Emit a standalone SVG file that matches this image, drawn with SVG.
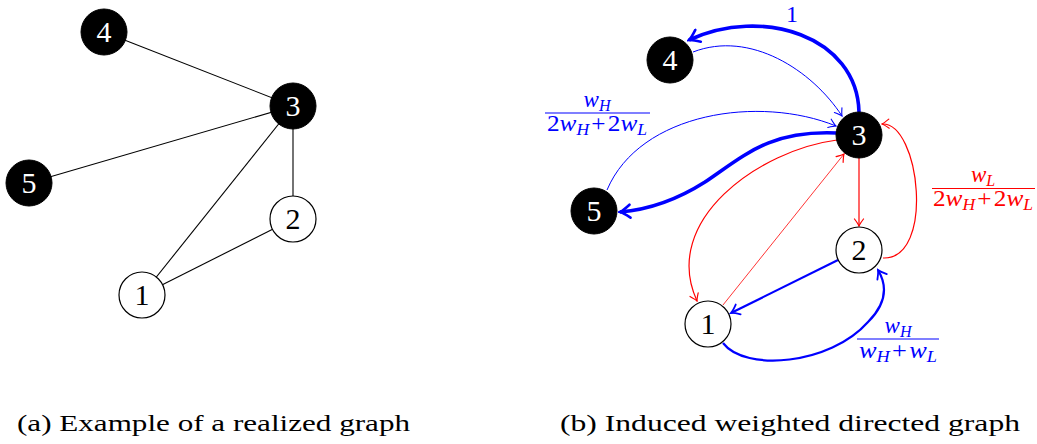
<svg xmlns="http://www.w3.org/2000/svg" width="1037" height="444" viewBox="0 0 1037 444">
<style>
.nb{fill:#000;stroke:#000;stroke-width:1}
.nw{fill:#fff;stroke:#000;stroke-width:1.2}
.lb{font-family:"Liberation Serif",serif;font-size:30px;text-anchor:middle}
.tw{fill:#fff}
.tk{fill:#000}
.und{stroke:#000;stroke-width:1.1;fill:none}
.fr{font-family:"Liberation Serif",serif;font-size:23px;text-anchor:middle}
.it{font-style:italic}
.sb{font-style:italic;font-size:16px}
.cap{font-family:"Liberation Serif",serif;font-size:24px;fill:#000}
.bT{stroke:#0000ff;stroke-width:3.6;fill:none}
.bM{stroke:#0000ff;stroke-width:2.2;fill:none}
.bS{stroke:#0000ff;stroke-width:1;fill:none}
.rS{stroke:#ff0000;stroke-width:1.2;fill:none}
.rX{stroke:#ff0000;stroke-width:0.8;fill:none}
</style>
<defs>
<marker id="mbT" viewBox="-12 -8 14 16" refX="0" refY="0" markerWidth="14" markerHeight="16" markerUnits="userSpaceOnUse" orient="auto">
<path d="M -10 -6.5 Q -3 -1 0 0 Q -3 1 -10 6.5" fill="none" stroke="#0000ff" stroke-width="2.6" stroke-linecap="round"/>
</marker>
<marker id="mbM" viewBox="-10 -7 12 14" refX="0" refY="0" markerWidth="12" markerHeight="14" markerUnits="userSpaceOnUse" orient="auto">
<path d="M -8 -5.5 Q -2.5 -1 0 0 Q -2.5 1 -8 5.5" fill="none" stroke="#0000ff" stroke-width="1.8" stroke-linecap="round"/>
</marker>
<marker id="mbS" viewBox="-9 -6 10 12" refX="0" refY="0" markerWidth="10" markerHeight="12" markerUnits="userSpaceOnUse" orient="auto">
<path d="M -7 -4.5 Q -2 -0.8 0 0 Q -2 0.8 -7 4.5" fill="none" stroke="#0000ff" stroke-width="1.1" stroke-linecap="round"/>
</marker>
<marker id="mrS" viewBox="-9 -6 10 12" refX="0" refY="0" markerWidth="10" markerHeight="12" markerUnits="userSpaceOnUse" orient="auto">
<path d="M -7 -4.5 Q -2 -0.8 0 0 Q -2 0.8 -7 4.5" fill="none" stroke="#ff0000" stroke-width="1.2" stroke-linecap="round"/>
</marker>
</defs>

<!-- (a) undirected graph -->
<g id="edges-a">
<line class="und" x1="104" y1="32" x2="293" y2="106"/>
<line class="und" x1="29" y1="183" x2="293" y2="106"/>
<line class="und" x1="142" y1="295" x2="293" y2="106"/>
<line class="und" x1="293" y1="219" x2="293" y2="106"/>
<line class="und" x1="142" y1="295" x2="293" y2="219"/>
</g>
<g id="a-node4"><circle class="nb" cx="104" cy="32" r="23"/><text class="lb tw" x="104" y="42">4</text></g>
<g id="a-node3"><circle class="nb" cx="293" cy="106" r="23"/><text class="lb tw" x="293" y="116">3</text></g>
<g id="a-node5"><circle class="nb" cx="29" cy="183" r="23"/><text class="lb tw" x="29" y="193">5</text></g>
<g id="a-node2"><circle class="nw" cx="293" cy="219" r="23"/><text class="lb tk" x="293" y="229">2</text></g>
<g id="a-node1"><circle class="nw" cx="142" cy="295" r="23"/><text class="lb tk" x="142" y="305">1</text></g>

<!-- (b) directed weighted graph -->
<g id="edges-b">
<path class="bT" d="M 859 112 C 857 36 762 6 689 40" marker-end="url(#mbT)"/>
<path class="bS" d="M 693 52 C 750 30 812 70 842 116" marker-end="url(#mbS)"/>
<path class="bS" d="M 607 190 C 640 112 760 95 836 126" marker-end="url(#mbS)"/>
<path class="bT" d="M 837 133 C 770 130 745 155 705 182 C 672 203 645 210 620 212" marker-end="url(#mbT)"/>
<path class="rS" d="M 837 140 C 760 150 660 220 697 301" marker-end="url(#mrS)"/>
<path class="rX" d="M 723 305 L 844 154" marker-end="url(#mrS)"/>
<path class="rS" d="M 859 158 L 859 226" marker-end="url(#mrS)"/>
<path class="rS" d="M 883 258 C 935 260 920 122 882 124" marker-end="url(#mrS)"/>
<path class="bM" d="M 838 260 L 731 313" marker-end="url(#mbM)"/>
<path class="bM" d="M 723 343 C 745 372 830 365 868 322 C 888 302 887 285 878 270" marker-end="url(#mbM)"/>
</g>
<g id="b-node4"><circle class="nb" cx="670" cy="60" r="23"/><text class="lb tw" x="670" y="70">4</text></g>
<g id="b-node3"><circle class="nb" cx="859" cy="135" r="23"/><text class="lb tw" x="859" y="145">3</text></g>
<g id="b-node5"><circle class="nb" cx="594" cy="211" r="23"/><text class="lb tw" x="594" y="221">5</text></g>
<g id="b-node2"><circle class="nw" cx="859" cy="250" r="23"/><text class="lb tk" x="859" y="260">2</text></g>
<g id="b-node1"><circle class="nw" cx="708" cy="324" r="23"/><text class="lb tk" x="708" y="334">1</text></g>

<g id="labels">
<text x="792" y="22" font-family="Liberation Serif, serif" font-size="24" fill="#0000ff" text-anchor="middle">1</text>

<g fill="#0000ff">
<text class="fr" x="597" y="107"><tspan class="it">w</tspan><tspan class="sb" dy="4">H</tspan></text>
<rect x="545" y="112.5" width="105" height="1" fill="#0000ff"/>
<text class="fr" x="597" y="131" textLength="100" lengthAdjust="spacingAndGlyphs"><tspan>2</tspan><tspan class="it">w</tspan><tspan class="sb" dy="4">H</tspan><tspan dy="-4" dx="2">+</tspan><tspan dx="2">2</tspan><tspan class="it">w</tspan><tspan class="sb" dy="4">L</tspan></text>
</g>

<g fill="#ff0000">
<text class="fr" x="983" y="182"><tspan class="it">w</tspan><tspan class="sb" dy="4">L</tspan></text>
<rect x="932" y="188" width="103" height="1" fill="#ff0000"/>
<text class="fr" x="983" y="206" textLength="100" lengthAdjust="spacingAndGlyphs"><tspan>2</tspan><tspan class="it">w</tspan><tspan class="sb" dy="4">H</tspan><tspan dy="-4" dx="2">+</tspan><tspan dx="2">2</tspan><tspan class="it">w</tspan><tspan class="sb" dy="4">L</tspan></text>
</g>

<g fill="#0000ff">
<text class="fr" x="898" y="333"><tspan class="it">w</tspan><tspan class="sb" dy="4">H</tspan></text>
<rect x="857" y="338.5" width="82" height="1" fill="#0000ff"/>
<text class="fr" x="898" y="358" textLength="78" lengthAdjust="spacingAndGlyphs"><tspan class="it">w</tspan><tspan class="sb" dy="4">H</tspan><tspan dy="-4" dx="2">+</tspan><tspan class="it" dx="2">w</tspan><tspan class="sb" dy="4">L</tspan></text>
</g>
</g>

<g id="captions">
<text class="cap" x="17" y="431" textLength="393" lengthAdjust="spacingAndGlyphs">(a) Example of a realized graph</text>
<text class="cap" x="560" y="431" textLength="460" lengthAdjust="spacingAndGlyphs">(b) Induced weighted directed graph</text>
</g>
</svg>
